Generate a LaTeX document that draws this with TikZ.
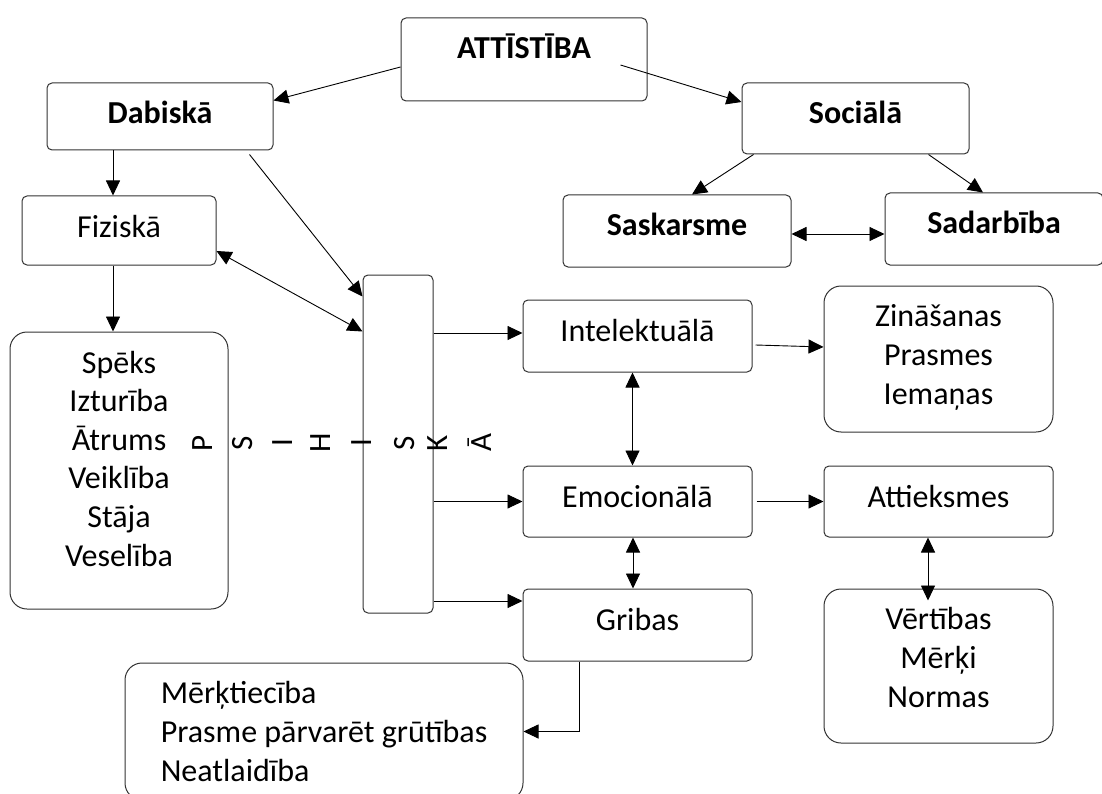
\documentclass[tikz,border=0pt]{standalone}
\usepackage{fontspec}
\setmainfont{Carlito}
\usetikzlibrary{arrows.meta}
\tikzset{
  box/.style={draw=black!80, line width=1pt, rounded corners=5pt, inner sep=0pt,
    align=center, text height=41pt, font=\fontsize{32}{38.6}\selectfont},
  bigbox/.style={box, rounded corners=17pt},
  letter/.style={rotate=90, inner sep=0pt, font=\fontsize{31}{32}\selectfont},
}

\begin{document}
\begin{tikzpicture}[x=1pt, y=-1pt, >={Triangle[length=15pt,width=14pt]}, ->, line width=0.9pt]
    \useasboundingbox (0,0) rectangle (1102,794);

    \node[box, minimum width=246pt, text depth=42pt] (att) at (524,59.5) {\textbf{ATTĪSTĪBA}};
    \node[box, minimum width=226pt, text depth=26pt] (dab) at (160,116.5) {\textbf{Dabiskā}};
    \node[box, minimum width=227pt, text depth=30pt] (soc) at (855.5,118.5) {\textbf{Sociālā}};
    \node[box, minimum width=194pt, text depth=28pt] (fiz) at (119,230.5) {Fiziskā};
    \node[box, minimum width=228pt, text depth=31pt] (sask) at (677,231) {\textbf{Saskarsme}};
    \node[box, minimum width=218pt, text depth=31pt] (sad) at (994,229) {\textbf{Sadarbība}};
    \node[bigbox, minimum width=218pt, text height=234pt, text depth=43pt] (spek) at (119,470.5)
        {Spēks\\Izturība\\Ātrums\\Veiklība\\Stāja\\Veselība};
    \node[box, minimum width=70pt, minimum height=338pt] (psih) at (398,444) {};
    \node[box, minimum width=229pt, text depth=31pt] (intel) at (637.5,336) {Intelektuālā};
    \node[bigbox, minimum width=229pt, text height=118pt, text depth=28pt] (zin) at (938.5,359)
        {Zināšanas\\Prasmes\\Iemaņas};
    \node[box, minimum width=229pt, text depth=30pt] (emo) at (637.5,501.5) {Emocionālā};
    \node[box, minimum width=229pt, text depth=30pt] (attiek) at (938.5,501.5) {Attieksmes};
    \node[box, minimum width=229pt, text depth=31pt] (grib) at (637.5,625) {Gribas};
    \node[bigbox, minimum width=229pt, text height=118pt, text depth=36pt] (vert) at (938.5,666)
        {Vērtības\\Mērķi\\Normas};
    \node[bigbox, align=left, minimum width=398pt, text height=118pt, text depth=19pt] (merk) at (324,731.5)
        {Mērķtiecība\\Prasme pārvarēt grūtības\\Neatlaidība};

    \foreach \l/\x [count=\i] in {P/203,S/243,I/283,H/321,I/362,S/405,K/438,Ā/480}
        \node[letter] (ps\i) at (\x,443) {\l};

    \draw([yshift=-7.5pt]att.west)--([yshift=16pt]dab.east);
    \draw([xshift=-27pt,yshift=-5.5pt]att.east)--([yshift=16.5pt]soc.west);
    \draw([xshift=-47pt]dab.south)--([xshift=-47pt]dab.south |- fiz.north);
    \draw([xshift=-24pt,yshift=-4pt]dab.south east)--([yshift=-22pt]psih.north west);
    \draw[<->]([yshift=-20.5pt]fiz.east)--([yshift=-57pt]psih.north west);
    \draw([xshift=-6pt]fiz.south)--([xshift=-6pt]spek.north);
    \draw([xshift=12pt]soc.south west)--([xshift=15pt]sask.north);
    \draw([xshift=-41pt]soc.south east)--([xshift=-11pt]sad.north);
    \draw[<->]([yshift=-3pt]sask.east)--([yshift=-3pt]sask.east -| sad.west);
    \draw([yshift=3pt]intel.west -| psih.east)--([yshift=3pt]intel.west);
    \draw(emo.west -| psih.east)--(emo.west);
    \draw([yshift=24pt]grib.west -| psih.east)--([yshift=24pt]grib.west);
    \draw([xshift=3pt,yshift=-9pt]intel.east)--([yshift=12pt]zin.west);
    \draw[<->]([xshift=-5pt]intel.south)--([xshift=-5pt]emo.north);
    \draw([xshift=4pt]emo.east)--(attiek.west);
    \draw[<->]([xshift=-4.5pt]emo.south)--([xshift=-4.5pt]grib.north);
    \draw[<->]([xshift=-10.5pt]attiek.south)--([xshift=-10.5pt,yshift=-12pt]vert.north);
    \draw([xshift=-58pt]grib.south) |- (merk.east);
\end{tikzpicture}
\end{document}
